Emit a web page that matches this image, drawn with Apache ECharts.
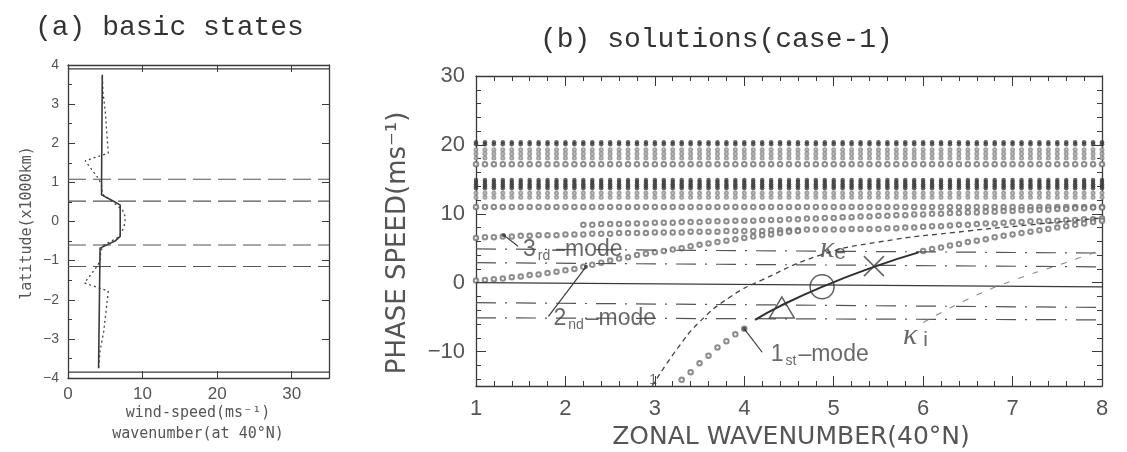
<!DOCTYPE html>
<html>
<head>
<meta charset="utf-8">
<title>basic states / solutions(case-1)</title>
<script src="https://cdn.jsdelivr.net/npm/echarts@6.0.0/dist/echarts.min.js"></script>
<style>
  html, body { margin: 0; padding: 0; background: #fff; }
  #chart { width: 1127px; height: 452px; }
</style>
</head>
<body>
<div id="chart"></div>
<script>
// ---------- (a) basic states ----------
// solid profile: wind speed vs latitude
const solidLat = [3.75, 1.0, 0.68, 0.5, 0.42, -0.38, -0.5, -0.68, -3.75];
const solidU   = [4.6, 4.5, 4.5, 6.3, 7.0, 7.0, 6.3, 4.3, 4.1];
// dotted profile
const dotLat = [3.7, 3.3, 2.8, 1.75, 1.55, 1.12, 0.95, 0.7, 0.5, 0.3, 0.1, -0.15, -0.4, -0.6, -0.75, -1.0, -1.12, -1.57, -1.78, -2.8, -3.3, -3.75];
const dotU   = [4.6, 4.7, 5.0, 5.4, 2.3, 4.0, 4.5, 4.6, 6.0, 7.3, 7.7, 7.5, 6.8, 4.8, 4.4, 4.3, 4.0, 2.2, 5.4, 4.8, 4.3, 4.1];
const latDashed = [1.08, 0.52, -0.6, -1.15];
const latEdges = [3.9, -3.85];
const ticksA_x = [0, 10, 20, 30];

// ---------- (b) solutions(case-1) ----------
const kCols = [
  1.0, 1.1, 1.2, 1.3, 1.4, 1.5, 1.6, 1.7, 1.8, 1.9,
  2.0, 2.1, 2.2, 2.3, 2.4, 2.5, 2.6, 2.7, 2.8, 2.9,
  3.0, 3.1, 3.2, 3.3, 3.4, 3.5, 3.6, 3.7, 3.8, 3.9,
  4.0, 4.1, 4.2, 4.3, 4.4, 4.5, 4.6, 4.7, 4.8, 4.9,
  5.0, 5.1, 5.2, 5.3, 5.4, 5.5, 5.6, 5.7, 5.8, 5.9,
  6.0, 6.1, 6.2, 6.3, 6.4, 6.5, 6.6, 6.7, 6.8, 6.9,
  7.0, 7.1, 7.2, 7.3, 7.4, 7.5, 7.6, 7.7, 7.8, 7.9,
  8.0
];
// stacked solutions in every column (phase speed, m/s)
const bandFilled = [20.4, 20.1, 14.9, 14.6, 14.3, 14.0, 13.7];
const bandSmall  = [19.3, 18.7, 18.1, 13.0, 12.4];
const bandRing   = [17.2, 11.0];

// upper sloping row, from k = 2.2
const rowUpper = [
  8.4, 8.4, 8.5, 8.5, 8.5, 8.6, 8.6, 8.6,
  8.7, 8.7, 8.7, 8.8, 8.8, 8.8, 8.9, 8.9, 8.9, 9.0,
  9.0, 9.0, 9.1, 9.1, 9.1, 9.2, 9.2, 9.3, 9.3, 9.4,
  9.4, 9.5, 9.5, 9.6, 9.6, 9.7, 9.7, 9.8, 9.8, 9.9,
  9.9, 10.0, 10.0, 10.1, 10.1, 10.2, 10.2, 10.3, 10.3, 10.4,
  10.4, 10.5, 10.5, 10.6, 10.6, 10.7, 10.7, 10.8, 10.8, 10.9, 10.9
];
// 3rd mode, from k = 1.0
const mode3 = [
  6.5, 6.6, 6.6, 6.7, 6.7, 6.8, 6.8, 6.9, 6.9, 6.9,
  7.0, 7.0, 7.0, 7.1, 7.1, 7.1, 7.2, 7.2, 7.2, 7.2,
  7.3, 7.3, 7.3, 7.3, 7.4, 7.4, 7.4, 7.4, 7.5, 7.5,
  7.5, 7.5, 7.5, 7.6, 7.6, 7.6, 7.6, 7.7, 7.7, 7.7,
  7.7, 7.7, 7.8, 7.8, 7.8, 7.8, 7.9, 7.9, 8.0, 8.0,
  8.1, 8.2, 8.2, 8.3, 8.4, 8.4, 8.5, 8.6, 8.6, 8.7,
  8.8, 8.8, 8.9, 8.9, 9.0, 9.0, 9.1, 9.1, 9.2, 9.2, 9.3
];
// 2nd mode, from k = 1.0
const mode2 = [
  0.3, 0.4, 0.5, 0.6, 0.8, 0.9, 1.1, 1.2, 1.4, 1.6,
  1.8, 2.0, 2.3, 2.6, 2.9, 3.2, 3.5, 3.7, 4.0, 4.2,
  4.4, 4.6, 4.8, 5.0, 5.3, 5.5, 5.7, 5.9, 6.1, 6.3,
  6.5, 6.7, 6.9, 7.0, 7.2, 7.4, 7.5
];
// 1st mode, low part from k = 3.3 and high part from k = 6.0
const mode1Low = [-14.1, -13.0, -11.7, -10.6, -9.4, -8.5, -7.5, -6.7];
const mode1High = [4.6, 4.9, 5.1, 5.4, 5.6, 5.9, 6.1, 6.3, 6.6, 6.8, 7.0, 7.2, 7.4, 7.6, 7.8, 8.0, 8.2, 8.4, 8.6, 8.8, 9.0];
// traced 1st-mode curve (solid)
const traceK = [4.12, 4.4, 4.87, 5.45, 5.95];
const traceC = [-5.4, -3.4, -0.6, 2.3, 4.4];
// kappa_e and kappa_i curves
const keK = [2.97, 3.25, 3.5, 3.85, 4.2, 4.85, 5.5, 6.5, 7.2, 8.0];
const keC = [-15, -9.6, -5.7, -2.0, 0.4, 4.0, 5.9, 7.5, 8.4, 9.4];
const kiK = [6.0, 6.5, 7.0, 7.5, 8.0];
const kiC = [-5.8, -2.4, 0.3, 2.5, 4.8];
// horizontal reference lines (value at k=1 and k=8)
const zeroLine = [0.0, -0.6];
const refLeft  = [4.9, 2.9, -2.9, -5.1];
const refRight = [4.3, 2.3, -3.6, -5.4];
const ticksB_y = [-10, 0, 10, 20, 30];
const minorB_y = [-14, -12, -8, -6, -4, -2, 2, 4, 6, 8, 12, 14, 16, 18, 22, 24, 26, 28];

const INK = '#3a3a3a';
const GREY = '#707070';
const SANS = '"Liberation Sans", "DejaVu Sans", sans-serif';

function fromCol(k0, vals) {
  const i0 = kCols.indexOf(k0);
  return vals.map((v, i) => [kCols[i0 + i], v]);
}
function zipPairs(xs, ys) {
  return xs.map((x, i) => [x, ys[i]]);
}
function minus(v) {
  return String(v).replace('-', '\u2212');
}

const chart = echarts.init(document.getElementById('chart'));

const seriesA = [];
latEdges.forEach(v => seriesA.push({
  type: 'line', xAxisIndex: 0, yAxisIndex: 0, showSymbol: false, silent: true,
  data: [[0, v], [35, v]], lineStyle: { color: INK, width: 1.2 }
}));
latDashed.forEach(v => seriesA.push({
  type: 'line', xAxisIndex: 0, yAxisIndex: 0, showSymbol: false, silent: true,
  data: [[0, v], [35, v]], lineStyle: { color: '#555', width: 1.2, type: [18, 7] }
}));
seriesA.push({
  type: 'line', xAxisIndex: 0, yAxisIndex: 0, showSymbol: false,
  data: zipPairs(dotU, dotLat), lineStyle: { color: '#444', width: 1.3, type: [2, 3] }
});
seriesA.push({
  type: 'line', xAxisIndex: 0, yAxisIndex: 0, showSymbol: false,
  data: zipPairs(solidU, solidLat), lineStyle: { color: INK, width: 1.6 }
});

const seriesB = [];
const onB = { xAxisIndex: 2, yAxisIndex: 2 };
seriesB.push(Object.assign({
  type: 'line', showSymbol: false, silent: true,
  data: [[1, zeroLine[0]], [8, zeroLine[1]]], lineStyle: { color: INK, width: 1.2 }
}, onB));
refLeft.forEach((v, i) => seriesB.push(Object.assign({
  type: 'line', showSymbol: false, silent: true,
  data: [[1, v], [8, refRight[i]]], lineStyle: { color: '#555', width: 1.2, type: [20, 9, 2, 9] }
}, onB)));

// columns of solutions
seriesB.push(Object.assign({
  type: 'scatter', symbol: 'circle', symbolSize: 4.5,
  data: kCols.flatMap(k => bandFilled.map(c => [k, c])),
  itemStyle: { color: '#3c3c3c' }
}, onB));
seriesB.push(Object.assign({
  type: 'scatter', symbol: 'emptyCircle', symbolSize: 3,
  data: kCols.flatMap(k => bandSmall.map(c => [k, c])),
  itemStyle: { color: '#8a8a8a', borderWidth: 0.8 }
}, onB));
const ringRows = kCols.flatMap(k => bandRing.map(c => [k, c]))
  .concat(fromCol(2.2, rowUpper), fromCol(1.0, mode3), fromCol(1.0, mode2),
          fromCol(3.3, mode1Low), fromCol(6.0, mode1High));
seriesB.push(Object.assign({
  type: 'scatter', symbol: 'emptyCircle', symbolSize: 4.5,
  data: ringRows, itemStyle: { color: GREY, borderWidth: 0.9 }
}, onB));

seriesB.push(Object.assign({
  type: 'line', smooth: true, showSymbol: false,
  data: zipPairs(keK, keC), lineStyle: { color: '#444', width: 1.3, type: [5, 4] }
}, onB));
seriesB.push(Object.assign({
  type: 'line', smooth: true, showSymbol: false,
  data: zipPairs(kiK, kiC), lineStyle: { color: '#888', width: 1.1, type: [6, 9] }
}, onB));
seriesB.push(Object.assign({
  type: 'line', smooth: true, showSymbol: false,
  data: zipPairs(traceK, traceC), lineStyle: { color: '#2e2e2e', width: 2 }
}, onB));

// leaders from the labels to the modes
const leaders = [
  [[1.31, 6.9], [1.47, 5.3]],
  [[2.23, 2.3], [1.81, -4.9]],
  [[4.0, -6.7], [4.2, -10.1]]
];
leaders.forEach(seg => seriesB.push(Object.assign({
  type: 'line', showSymbol: false, data: seg, lineStyle: { color: INK, width: 1.2 }
}, onB)));
seriesB.push(Object.assign({
  type: 'scatter', symbol: 'circle', symbolSize: 4,
  data: leaders.map(seg => seg[0]), itemStyle: { color: INK }
}, onB));

// markers on the traced curve
const markTri = [4.42, -3.6];
const markCirc = [4.87, -0.6];
const markX = [5.45, 2.4];
const hollow = { color: 'rgba(0,0,0,0)', borderColor: INK, borderWidth: 1.5 };
seriesB.push(Object.assign({
  type: 'scatter', symbol: 'triangle', symbolSize: [25, 21], data: [markTri], itemStyle: hollow, z: 5
}, onB));
seriesB.push(Object.assign({
  type: 'scatter', symbol: 'circle', symbolSize: 24, data: [markCirc], itemStyle: hollow, z: 5
}, onB));
seriesB.push(Object.assign({
  type: 'scatter', symbol: 'path://M0,0L20,20M20,0L0,20', symbolSize: 20, data: [markX], itemStyle: hollow, z: 5
}, onB));

// text notes placed in data coordinates
const modeNotes = [
  { at: [1.52, 4.8], num: '3', suf: 'rd' },
  { at: [1.86, -5.2], num: '2', suf: 'nd' },
  { at: [4.29, -10.4], num: '1', suf: 'st' }
];
const kappaNotes = [
  { at: [4.84, 4.8], sub: 'e' },
  { at: [5.77, -7.8], sub: ' i' }
];
const noteRich = {
  big: { fontFamily: SANS, fontSize: 23, color: '#444', lineHeight: 26 },
  sub: { fontFamily: SANS, fontSize: 14, color: '#444', lineHeight: 14, padding: [14, 2, 0, 2] },
  kap: { fontFamily: '"Liberation Serif", serif', fontStyle: 'italic', fontSize: 30, color: '#444', lineHeight: 28 },
  ksub: { fontFamily: SANS, fontSize: 21, color: '#444', lineHeight: 20, padding: [8, 0, 0, 0] }
};
seriesB.push(Object.assign({
  type: 'scatter', symbolSize: 1, itemStyle: { color: 'rgba(0,0,0,0)' }, z: 6,
  data: modeNotes.map(n => ({ value: n.at, note: n }))
    .concat(kappaNotes.map(n => ({ value: n.at, kappa: n }))),
  label: {
    show: true, position: 'right', distance: 0, rich: noteRich,
    formatter: p => p.data.note
      ? `{big|${p.data.note.num}}{sub|${p.data.note.suf}}{big|\u2013mode}`
      : `{kap|\u03ba}{ksub|${p.data.kappa.sub}}`
  }
}, onB));
seriesB.push(Object.assign({
  type: 'scatter', symbolSize: 1, itemStyle: { color: 'rgba(0,0,0,0)' },
  data: [[2.98, -14.2]],
  label: { show: true, position: 'inside', formatter: '1', fontFamily: SANS, fontSize: 14, color: '#444' }
}, onB));

const axisLineStyle = { onZero: false, lineStyle: { color: INK, width: 1.3 } };
const tickA = { inside: true, length: 7, lineStyle: { color: INK } };
const tickB = { inside: true, length: 10, lineStyle: { color: INK } };

chart.setOption({
  animation: false,
  backgroundColor: '#fff',
  grid: [
    { left: 68, top: 65, width: 261, height: 313, containLabel: false, outerBoundsMode: 'none' },
    { left: 476, top: 76, width: 626, height: 310, containLabel: false, outerBoundsMode: 'none' }
  ],
  xAxis: [
    { gridIndex: 0, type: 'value', position: 'bottom', min: 0, max: 35, interval: 10,
      axisLine: axisLineStyle, splitLine: { show: false },
      axisTick: Object.assign({ customValues: ticksA_x }, tickA),
      axisLabel: { customValues: ticksA_x, margin: 8, fontFamily: SANS, fontSize: 17, color: '#555' } },
    { gridIndex: 0, type: 'value', position: 'top', min: 0, max: 35, interval: 10,
      axisLine: axisLineStyle, splitLine: { show: false },
      axisTick: Object.assign({ customValues: ticksA_x }, tickA), axisLabel: { show: false } },
    { gridIndex: 1, type: 'value', position: 'bottom', min: 1, max: 8, interval: 1,
      axisLine: axisLineStyle, splitLine: { show: false }, axisTick: tickB,
      minorTick: { show: true, splitNumber: 5, length: 5, lineStyle: { color: INK } },
      axisLabel: { margin: 12, fontFamily: SANS, fontSize: 22, color: '#555' } },
    { gridIndex: 1, type: 'value', position: 'top', min: 1, max: 8, interval: 1,
      axisLine: axisLineStyle, splitLine: { show: false }, axisTick: tickB,
      minorTick: { show: true, splitNumber: 5, length: 5, lineStyle: { color: INK } },
      axisLabel: { show: false } }
  ],
  yAxis: [
    { gridIndex: 0, type: 'value', position: 'left', min: -4, max: 4, interval: 1,
      axisLine: axisLineStyle, splitLine: { show: false }, axisTick: tickA,
      minorTick: { show: true, splitNumber: 2, length: 4, lineStyle: { color: INK } },
      axisLabel: { margin: 9, fontFamily: SANS, fontSize: 14, color: '#555', formatter: minus } },
    { gridIndex: 0, type: 'value', position: 'right', min: -4, max: 4, interval: 1,
      axisLine: axisLineStyle, splitLine: { show: false }, axisTick: tickA,
      axisLabel: { show: false } },
    { gridIndex: 1, type: 'value', position: 'left', min: -15, max: 30, interval: 5,
      axisLine: axisLineStyle, splitLine: { show: false },
      axisTick: Object.assign({ customValues: ticksB_y }, tickB),
      axisLabel: { customValues: ticksB_y, margin: 11, fontFamily: SANS, fontSize: 22, color: '#555',
        formatter: v => (v % 10 === 0 ? minus(v) : '') } },
    { gridIndex: 1, type: 'value', position: 'right', min: -15, max: 30, interval: 5,
      axisLine: axisLineStyle, splitLine: { show: false },
      axisTick: Object.assign({ customValues: ticksB_y }, tickB), axisLabel: { show: false } },
    { gridIndex: 1, type: 'value', position: 'left', min: -15, max: 30, interval: 5,
      axisLine: { show: false }, splitLine: { show: false },
      axisTick: { inside: true, length: 5, customValues: minorB_y, lineStyle: { color: INK } },
      axisLabel: { show: false } },
    { gridIndex: 1, type: 'value', position: 'right', min: -15, max: 30, interval: 5,
      axisLine: { show: false }, splitLine: { show: false },
      axisTick: { inside: true, length: 5, customValues: minorB_y, lineStyle: { color: INK } },
      axisLabel: { show: false } }
  ],
  graphic: [
    { type: 'text', left: 35, top: 14,
      style: { text: '(a) basic states', font: '28px "Liberation Mono", monospace', fill: '#333' } },
    { type: 'text', left: 540, top: 26,
      style: { text: '(b) solutions(case-1)', font: '28px "Liberation Mono", monospace', fill: '#333' } },
    { type: 'text', x: 27, y: 223, rotation: Math.PI / 2,
      style: { text: 'latitude(x1000km)', font: '15px "DejaVu Sans Mono", monospace', fill: '#555',
        textAlign: 'center', textVerticalAlign: 'middle', align: 'center', verticalAlign: 'middle' } },
    { type: 'text', x: 198, y: 413,
      style: { text: 'wind-speed(ms\u207b\u00b9)', font: '15px "DejaVu Sans Mono", monospace', fill: '#555',
        textAlign: 'center', textVerticalAlign: 'middle', align: 'center', verticalAlign: 'middle' } },
    { type: 'text', x: 198, y: 434,
      style: { text: 'wavenumber(at 40\u00b0N)', font: '15px "DejaVu Sans Mono", monospace', fill: '#555',
        textAlign: 'center', textVerticalAlign: 'middle', align: 'center', verticalAlign: 'middle' } },
    { type: 'text', x: 398, y: 243, rotation: Math.PI / 2,
      style: { text: 'PHASE SPEED(ms\u207b\u00b9)', font: '26px "DejaVu Sans", sans-serif', fill: '#555',
        textAlign: 'center', textVerticalAlign: 'middle', align: 'center', verticalAlign: 'middle' } },
    { type: 'text', x: 791, y: 437,
      style: { text: 'ZONAL WAVENUMBER(40\u00b0N)', font: '25px "DejaVu Sans", sans-serif', fill: '#555',
        textAlign: 'center', textVerticalAlign: 'middle', align: 'center', verticalAlign: 'middle' } }
  ],
  series: seriesA.concat(seriesB)
});
</script>
</body>
</html>
